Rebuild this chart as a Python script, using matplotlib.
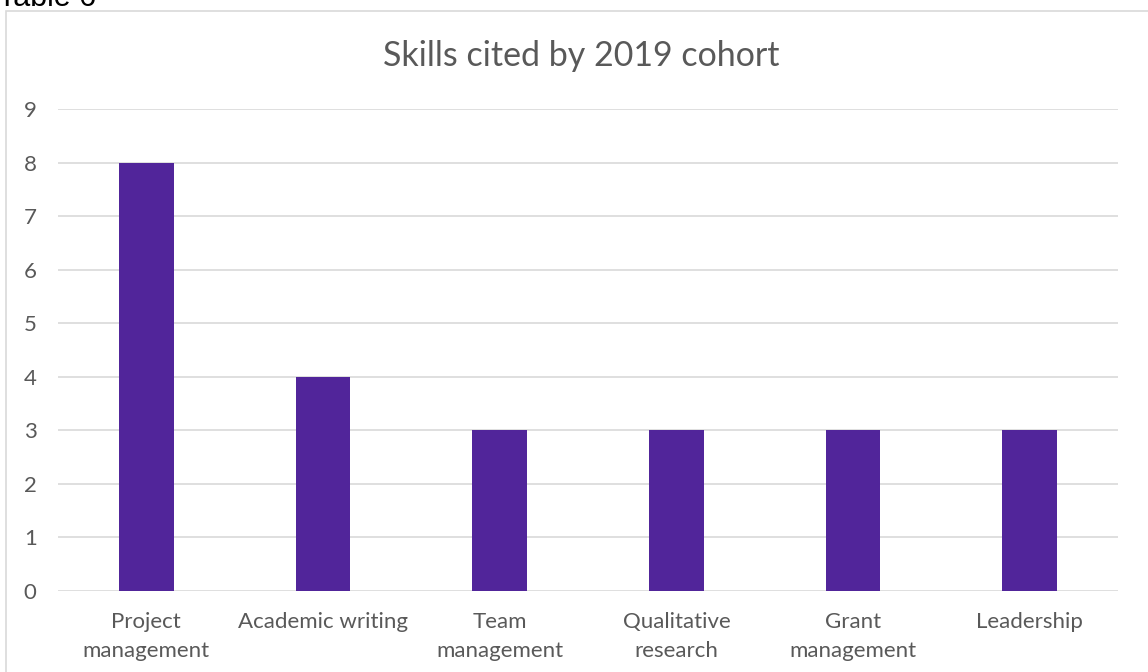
import matplotlib.pyplot as plt
from matplotlib.patches import Rectangle

# data
skills = ['Project\nmanagement', 'Academic writing', 'Team\nmanagement',
          'Qualitative\nresearch', 'Grant\nmanagement', 'Leadership']
counts = [8, 4, 3, 3, 3, 3]
yticks = list(range(0, 10))

plt.rcParams['font.family'] = ['Lato', 'DejaVu Sans']

fig = plt.figure(figsize=(11.48, 6.72), dpi=100)
ax = fig.add_axes([0.0505, 0.1205, 0.9235, 0.7173])

# chart frame (cut off on the right and bottom like the original)
fig.patches.append(Rectangle((6 / 1148, -0.01), 1.2, 1 - 11 / 672 + 0.01,
                             transform=fig.transFigure, fill=False,
                             edgecolor='#D9D9D9', linewidth=1.2))
fig.text(-0.002, 1 - 6 / 672, 'Table 6', family='Liberation Sans',
         fontsize=22, color='black', va='baseline', ha='left')

x = range(len(skills))
ax.bar(x, counts, width=0.31, color='#51259A', zorder=3)

ax.set_xlim(-0.5, len(skills) - 0.5)
ax.set_ylim(0, 9)
ax.set_yticks(yticks)
ax.set_xticks(list(x))
ax.set_xticklabels(skills, fontsize=16, color='#595959', linespacing=1.6)
ax.tick_params(axis='y', labelsize=16, labelcolor='#595959', length=0, pad=20)
ax.tick_params(axis='x', length=0, pad=15)
for label in ax.get_yticklabels():
    label.set_horizontalalignment('center')
ax.grid(axis='y', color='#D9D9D9', linewidth=1.2, zorder=0)
for s in ax.spines.values():
    s.set_visible(False)

fig.text(581 / 1148, 1 - 56 / 672, 'Skills cited by 2019 cohort',
         fontsize=24.5, color='#595959', ha='center', va='center')

plt.savefig('out.png', dpi=100)
